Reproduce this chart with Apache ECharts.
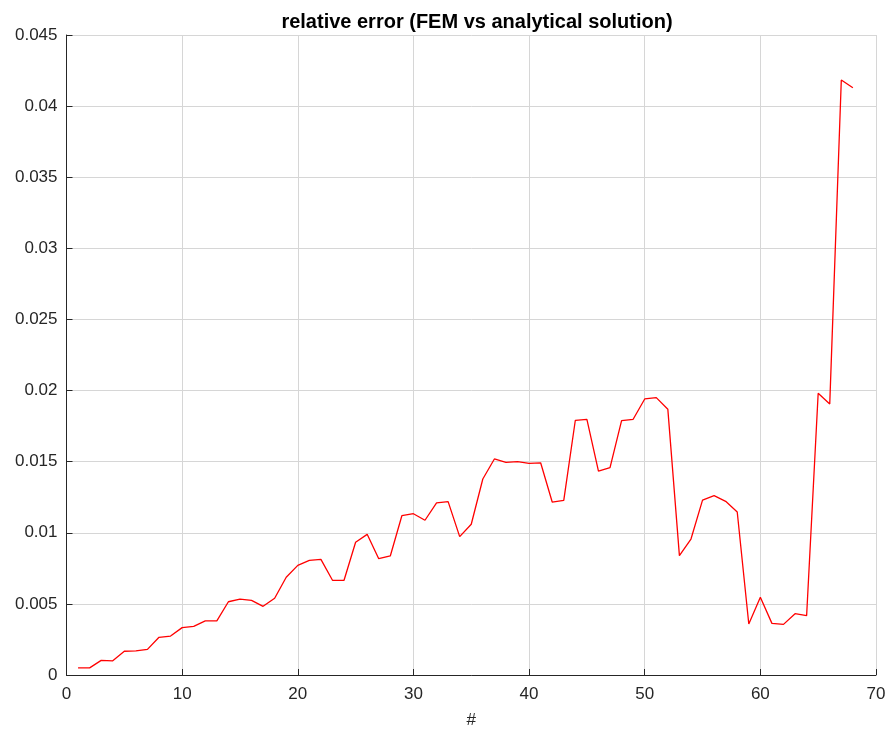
<!DOCTYPE html>
<html>
<head>
<meta charset="utf-8">
<script src="https://cdn.jsdelivr.net/npm/echarts@6/dist/echarts.min.js"></script>
<style>html,body{margin:0;padding:0;background:#fff}#c{width:889px;height:731px}</style>
</head>
<body>
<div id="c"></div>
<script>
const idx = [1,2,3,4,5,6,7,8,9,10,11,12,13,14,15,16,17,18,19,20,21,22,23,24,25,26,27,28,29,30,31,32,33,34,35,36,37,38,39,40,41,42,43,44,45,46,47,48,49,50,51,52,53,54,55,56,57,58,59,60,61,62,63,64,65,66,67,68];
const relErr = [0.0005,0.0005,0.00103,0.001,0.00167,0.0017,0.0018,0.00265,0.00274,0.00333,
  0.00342,0.0038,0.0038,0.00515,0.00534,0.00525,0.00483,0.0054,0.00687,0.00771,
  0.00806,0.00813,0.00666,0.00666,0.00933,0.00989,0.00818,0.00837,0.0112,0.01134,
  0.01088,0.0121,0.01219,0.00973,0.0106,0.01378,0.01519,0.01495,0.015,0.01488,
  0.01492,0.01216,0.01228,0.01791,0.01798,0.01434,0.01458,0.01788,0.01798,0.01941,
  0.0195,0.01868,0.00839,0.00956,0.0123,0.01261,0.01221,0.01146,0.00359,0.00546,
  0.00363,0.00356,0.00431,0.00417,0.01981,0.01905,0.04184,0.04129];
const titleText = 'relative error (FEM vs analytical solution)';
const xName = '#';

const chart = echarts.init(document.getElementById('c'), null, {renderer: 'canvas'});
const axisColor = '#262626';
const gridColor = '#d6d6d6';
const font = 'Liberation Sans, Arial, Helvetica, sans-serif';
chart.setOption({
  animation: false,
  backgroundColor: '#fff',
  title: {
    text: titleText, left: 472, top: 7, textAlign: 'center',
    textStyle: {fontFamily: font, fontSize: 20, fontWeight: 'bold', color: '#000'}
  },
  grid: {left: 66.5, right: 13, top: 35, bottom: 56, containLabel: false, outerBoundsMode: 'none'},
  xAxis: {
    type: 'value', min: 0, max: 70, interval: 10,
    name: xName, nameLocation: 'middle', nameGap: 37,
    nameTextStyle: {fontFamily: font, fontSize: 17, color: axisColor},
    axisLine: {show: true, onZero: false, lineStyle: {color: axisColor, width: 1}},
    axisTick: {show: true, inside: true, length: 6, lineStyle: {color: axisColor}},
    axisLabel: {fontFamily: font, fontSize: 17, color: axisColor, margin: 11},
    splitLine: {show: true, lineStyle: {color: gridColor, width: 1}}
  },
  yAxis: {
    type: 'value', min: 0, max: 0.045, interval: 0.005,
    axisLine: {show: true, onZero: false, lineStyle: {color: axisColor, width: 1}},
    axisTick: {show: true, inside: true, length: 6, lineStyle: {color: axisColor}},
    axisLabel: {fontFamily: font, fontSize: 17, color: axisColor, margin: 9,
      formatter: v => String(+v.toFixed(3))},
    splitLine: {show: true, lineStyle: {color: gridColor, width: 1}}
  },
  series: [{
    type: 'line',
    data: idx.map((x, i) => [x, relErr[i]]),
    showSymbol: false, symbol: 'none',
    lineStyle: {color: '#ff0000', width: 1.3},
    itemStyle: {color: '#ff0000'}
  }]
});
</script>
</body>
</html>
